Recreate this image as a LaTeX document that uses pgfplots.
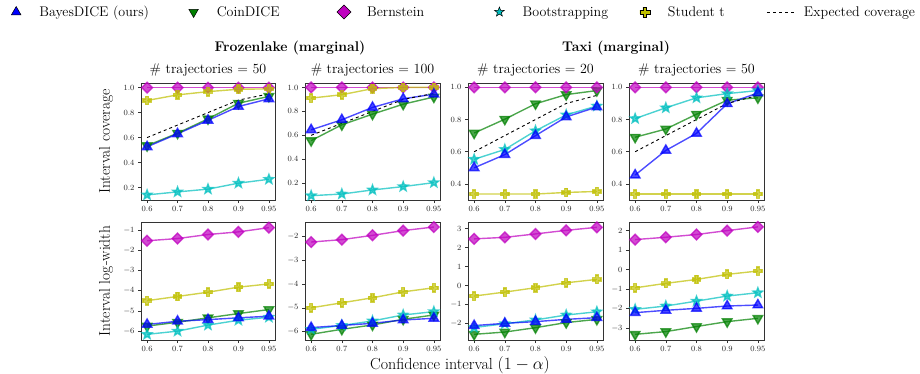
\documentclass[border=0pt]{standalone}
\usepackage{pgfplots}
\usepackage{pgfplotstable}
\pgfplotsset{compat=1.18}

\definecolor{cB}{rgb}{0,0,1}
\definecolor{cC}{rgb}{0,0.5,0}
\definecolor{cM}{rgb}{0.75,0,0.75}
\definecolor{cS}{rgb}{0,0.75,0.75}
\definecolor{cY}{rgb}{0.75,0.75,0}

\pgfdeclareplotmark{fstar}{%
  \pgfpathmoveto{\pgfpointpolar{90}{\pgfplotmarksize}}%
  \pgfpathlineto{\pgfpointpolar{126}{0.42\pgfplotmarksize}}%
  \pgfpathlineto{\pgfpointpolar{162}{\pgfplotmarksize}}%
  \pgfpathlineto{\pgfpointpolar{198}{0.42\pgfplotmarksize}}%
  \pgfpathlineto{\pgfpointpolar{234}{\pgfplotmarksize}}%
  \pgfpathlineto{\pgfpointpolar{270}{0.42\pgfplotmarksize}}%
  \pgfpathlineto{\pgfpointpolar{306}{\pgfplotmarksize}}%
  \pgfpathlineto{\pgfpointpolar{342}{0.42\pgfplotmarksize}}%
  \pgfpathlineto{\pgfpointpolar{18}{\pgfplotmarksize}}%
  \pgfpathlineto{\pgfpointpolar{54}{0.42\pgfplotmarksize}}%
  \pgfpathclose\pgfusepathqfillstroke}
\pgfdeclareplotmark{fplus}{%
  \pgfpathmoveto{\pgfpoint{0.38\pgfplotmarksize}{\pgfplotmarksize}}%
  \pgfpathlineto{\pgfpoint{-0.38\pgfplotmarksize}{\pgfplotmarksize}}%
  \pgfpathlineto{\pgfpoint{-0.38\pgfplotmarksize}{0.38\pgfplotmarksize}}%
  \pgfpathlineto{\pgfpoint{-\pgfplotmarksize}{0.38\pgfplotmarksize}}%
  \pgfpathlineto{\pgfpoint{-\pgfplotmarksize}{-0.38\pgfplotmarksize}}%
  \pgfpathlineto{\pgfpoint{-0.38\pgfplotmarksize}{-0.38\pgfplotmarksize}}%
  \pgfpathlineto{\pgfpoint{-0.38\pgfplotmarksize}{-\pgfplotmarksize}}%
  \pgfpathlineto{\pgfpoint{0.38\pgfplotmarksize}{-\pgfplotmarksize}}%
  \pgfpathlineto{\pgfpoint{0.38\pgfplotmarksize}{-0.38\pgfplotmarksize}}%
  \pgfpathlineto{\pgfpoint{\pgfplotmarksize}{-0.38\pgfplotmarksize}}%
  \pgfpathlineto{\pgfpoint{\pgfplotmarksize}{0.38\pgfplotmarksize}}%
  \pgfpathlineto{\pgfpoint{0.38\pgfplotmarksize}{0.38\pgfplotmarksize}}%
  \pgfpathclose\pgfusepathqfillstroke}

\pgfplotsset{
  panel/.style={scale only axis, width=134pt, height=117pt,
    xmin=-0.2, xmax=4.2, xtick={0,1,2,3,4},
    xticklabels={0.6,0.7,0.8,0.9,0.95},
    tick align=outside, tick pos=left, major tick length=3pt,
    tick style={black!80, line width=0.6pt},
    axis line style={black!80, line width=0.9pt},
    tick label style={font=\fontsize{8}{9}\selectfont, black!85},
    xticklabel style={yshift=0pt},
    title style={font=\fontsize{14}{16}\selectfont, yshift=-3pt},
  },
  cov/.style={ytick={0.2,0.4,0.6,0.8,1.0},
    yticklabel style={/pgf/number format/.cd, fixed, fixed zerofill, precision=1}},
  bayes/.style={color=cB, opacity=0.7, line width=1.4pt, mark=triangle*, mark size=5.5pt, mark options={solid}},
  coin/.style={color=cC, opacity=0.7, line width=1.4pt, mark=triangle*, mark size=5.5pt, mark options={solid, rotate=180}},
  bern/.style={color=cM, opacity=0.7, line width=1.4pt, mark=square*, mark size=3.8pt, mark options={solid, rotate=45}},
  boot/.style={color=cS, opacity=0.7, line width=1.4pt, mark=fstar, mark size=5pt, mark options={solid}},
  stud/.style={color=cY, opacity=0.7, line width=1.4pt, mark=fplus, mark size=4.2pt, mark options={solid}},
  expc/.style={black, dashed, line width=0.9pt, mark=none},
}

% x: 0=0.6, 1=0.7, 2=0.8, 3=0.9, 4=0.95
\pgfplotstableread{
x bayes coin bern boot stud exp
0 0.526 0.535 1 0.141 0.897 0.60
1 0.630 0.635 1 0.165 0.942 0.70
2 0.738 0.750 1 0.187 0.968 0.80
3 0.849 0.875 1 0.235 0.987 0.90
4 0.910 0.930 1 0.266 0.990 0.95
}\covA
\pgfplotstableread{
x bayes coin bern boot stud exp
0 0.646 0.556 1 0.096 0.911 0.60
1 0.730 0.688 1 0.110 0.939 0.70
2 0.833 0.777 1 0.144 0.990 0.80
3 0.905 0.860 1 0.172 1.000 0.90
4 0.944 0.920 1 0.205 1.000 0.95
}\covB
\pgfplotstableread{
x bayes coin bern boot stud exp
0 0.500 0.716 1 0.553 0.337 0.60
1 0.582 0.802 1 0.614 0.337 0.70
2 0.700 0.898 1 0.730 0.337 0.80
3 0.816 0.955 1 0.829 0.347 0.90
4 0.878 0.980 1 0.884 0.353 0.95
}\covC
\pgfplotstableread{
x bayes coin bern boot stud exp
0 0.455 0.690 1 0.806 0.337 0.60
1 0.608 0.741 1 0.873 0.337 0.70
2 0.714 0.833 1 0.935 0.337 0.80
3 0.898 0.920 1 0.961 0.337 0.90
4 0.965 0.935 1 0.980 0.337 0.95
}\covD
\pgfplotstableread{
x bayes coin bern boot stud
0 -5.67 -5.75 -1.52 -6.16 -4.49
1 -5.51 -5.56 -1.41 -6.00 -4.28
2 -5.43 -5.34 -1.21 -5.70 -4.07
3 -5.34 -5.13 -1.08 -5.46 -3.82
4 -5.26 -4.93 -0.87 -5.31 -3.66
}\lwA
\pgfplotstableread{
x bayes coin bern boot stud
0 -5.83 -6.11 -2.24 -5.90 -5.00
1 -5.74 -5.90 -2.14 -5.74 -4.79
2 -5.65 -5.72 -1.96 -5.55 -4.58
3 -5.51 -5.48 -1.76 -5.30 -4.33
4 -5.44 -5.30 -1.61 -5.16 -4.16
}\lwB
\pgfplotstableread{
x bayes coin bern boot stud
0 -2.12 -2.58 2.46 -2.22 -0.56
1 -2.00 -2.46 2.54 -2.02 -0.35
2 -1.91 -2.23 2.72 -1.82 -0.12
3 -1.79 -1.96 2.91 -1.56 0.14
4 -1.70 -1.79 3.07 -1.39 0.32
}\lwC
\pgfplotstableread{
x bayes coin bern boot stud
0 -2.20 -3.31 1.54 -2.03 -0.93
1 -2.08 -3.17 1.66 -1.86 -0.70
2 -1.98 -2.91 1.80 -1.61 -0.50
3 -1.86 -2.66 2.00 -1.35 -0.24
4 -1.81 -2.49 2.19 -1.18 -0.07
}\lwD

\begin{document}
\begin{tikzpicture}[x=1pt,y=1pt]
\path[use as bounding box] (0,0) rectangle (920,373);

% ---------- legend ----------
\begin{axis}[hide axis, scale only axis, at={(0pt,0pt)}, anchor=south west,
  width=920pt, height=373pt, xmin=0, xmax=1, ymin=0, ymax=1,
  legend columns=6,
  legend style={draw=none, fill=none, inner sep=0pt, outer sep=0pt,
    at={(2.5/920,361/373)}, anchor=west, column sep=0pt,
    nodes={inner sep=0pt, outer sep=0pt},
    font=\fontsize{14}{16}\selectfont},
]
\addlegendimage{legend image code/.code={\path (0pt,0pt) (27pt,0pt); \draw[fill=cB, draw=black, line width=0.5pt] plot[mark=triangle*, mark size=5.5pt] coordinates {(13.5pt,0pt)};}}
\addlegendentry{\makebox[150pt][l]{\hspace{9.5pt}BayesDICE (ours)}}
\addlegendimage{legend image code/.code={\path (0pt,0pt) (27pt,0pt); \draw[fill=cC, draw=black, line width=0.5pt] plot[mark=triangle*, mark size=5.5pt, mark options={rotate=180}] coordinates {(13.5pt,0pt)};}}
\addlegendentry{\makebox[123pt][l]{\hspace{9.5pt}CoinDICE}}
\addlegendimage{legend image code/.code={\path (0pt,0pt) (27pt,0pt); \draw[fill=cM, draw=black, line width=0.5pt] plot[mark=square*, mark size=5pt, mark options={rotate=45}] coordinates {(13.5pt,0pt)};}}
\addlegendentry{\makebox[128pt][l]{\hspace{9.5pt}Bernstein}}
\addlegendimage{legend image code/.code={\path (0pt,0pt) (27pt,0pt); \draw[fill=cS, draw=black, line width=0.5pt] plot[mark=fstar, mark size=5pt] coordinates {(13.5pt,0pt)};}}
\addlegendentry{\makebox[118pt][l]{\hspace{9.5pt}Bootstrapping}}
\addlegendimage{legend image code/.code={\path (0pt,0pt) (27pt,0pt); \draw[fill=cY, draw=black, line width=0.5pt] plot[mark=fplus, mark size=5pt] coordinates {(13.5pt,0pt)};}}
\addlegendentry{\makebox[108pt][l]{\hspace{9.5pt}Student t}}
\addlegendimage{legend image code/.code={\draw[black, dashed, line width=1pt] (0pt,0pt) -- (27pt,0pt);}}
\addlegendentry{\makebox[120pt][l]{\hspace{9.5pt}Expected coverage}}
\addplot[draw=none, forget plot] coordinates {(0.5,0.5)};
\end{axis}

% ---------- row 1 ----------
\begin{axis}[panel, cov, at={(141pt,173pt)}, anchor=south west, width=134pt,
  ymin=0.10, ymax=1.037, title={\# trajectories = 50}]
\addplot[coin] table[x=x,y=coin]{\covA};
\addplot[bern] table[x=x,y=bern]{\covA};
\addplot[boot] table[x=x,y=boot]{\covA};
\addplot[stud] table[x=x,y=stud]{\covA};
\addplot[bayes] table[x=x,y=bayes]{\covA};
\addplot[expc] table[x=x,y=exp]{\covA};
\end{axis}
\begin{axis}[panel, cov, at={(305pt,173pt)}, anchor=south west, width=135pt,
  ymin=0.06, ymax=1.037, title={\# trajectories = 100}]
\addplot[coin] table[x=x,y=coin]{\covB};
\addplot[bern] table[x=x,y=bern]{\covB};
\addplot[boot] table[x=x,y=boot]{\covB};
\addplot[stud] table[x=x,y=stud]{\covB};
\addplot[bayes] table[x=x,y=bayes]{\covB};
\addplot[expc] table[x=x,y=exp]{\covB};
\end{axis}
\begin{axis}[panel, cov, at={(468pt,173pt)}, anchor=south west, width=135pt,
  ymin=0.30, ymax=1.027, ytick={0.4,0.6,0.8,1.0}, title={\# trajectories = 20}]
\addplot[coin] table[x=x,y=coin]{\covC};
\addplot[bern] table[x=x,y=bern]{\covC};
\addplot[boot] table[x=x,y=boot]{\covC};
\addplot[stud] table[x=x,y=stud]{\covC};
\addplot[bayes] table[x=x,y=bayes]{\covC};
\addplot[expc] table[x=x,y=exp]{\covC};
\end{axis}
\begin{axis}[panel, cov, at={(629pt,173pt)}, anchor=south west, width=135pt,
  ymin=0.30, ymax=1.027, ytick={0.4,0.6,0.8,1.0}, title={\# trajectories = 50}]
\addplot[coin] table[x=x,y=coin]{\covD};
\addplot[bern] table[x=x,y=bern]{\covD};
\addplot[boot] table[x=x,y=boot]{\covD};
\addplot[stud] table[x=x,y=stud]{\covD};
\addplot[bayes] table[x=x,y=bayes]{\covD};
\addplot[expc] table[x=x,y=exp]{\covD};
\end{axis}

% ---------- row 2 ----------
\begin{axis}[panel, at={(141pt,33pt)}, anchor=south west, width=134pt, height=118pt,
  ymin=-6.44, ymax=-0.59, ytick={-6,-5,-4,-3,-2,-1}]
\addplot[coin] table[x=x,y=coin]{\lwA};
\addplot[bern] table[x=x,y=bern]{\lwA};
\addplot[boot] table[x=x,y=boot]{\lwA};
\addplot[stud] table[x=x,y=stud]{\lwA};
\addplot[bayes] table[x=x,y=bayes]{\lwA};
\end{axis}
\begin{axis}[panel, at={(305pt,33pt)}, anchor=south west, width=135pt, height=118pt,
  ymin=-6.35, ymax=-1.40, ytick={-6,-5,-4,-3,-2}]
\addplot[coin] table[x=x,y=coin]{\lwB};
\addplot[bern] table[x=x,y=bern]{\lwB};
\addplot[boot] table[x=x,y=boot]{\lwB};
\addplot[stud] table[x=x,y=stud]{\lwB};
\addplot[bayes] table[x=x,y=bayes]{\lwB};
\end{axis}
\begin{axis}[panel, at={(468pt,33pt)}, anchor=south west, width=135pt, height=118pt,
  ymin=-2.88, ymax=3.35, ytick={-2,-1,0,1,2,3}]
\addplot[coin] table[x=x,y=coin]{\lwC};
\addplot[bern] table[x=x,y=bern]{\lwC};
\addplot[boot] table[x=x,y=boot]{\lwC};
\addplot[stud] table[x=x,y=stud]{\lwC};
\addplot[bayes] table[x=x,y=bayes]{\lwC};
\end{axis}
\begin{axis}[panel, at={(629pt,33pt)}, anchor=south west, width=135pt, height=118pt,
  ymin=-3.60, ymax=2.44, ytick={-3,-2,-1,0,1,2}]
\addplot[coin] table[x=x,y=coin]{\lwD};
\addplot[bern] table[x=x,y=bern]{\lwD};
\addplot[boot] table[x=x,y=boot]{\lwD};
\addplot[stud] table[x=x,y=stud]{\lwD};
\addplot[bayes] table[x=x,y=bayes]{\lwD};
\end{axis}

% ---------- labels and titles ----------
\node[rotate=90, font=\fontsize{15.5}{17}\selectfont] at (106,231.5) {Interval coverage};
\node[rotate=90, font=\fontsize{15.5}{17}\selectfont] at (106,92) {Interval log-width};
\node[font=\fontsize{16}{18}\selectfont, anchor=base, inner sep=0pt] at (460,4) {Confidence interval $(1-\alpha)$};
\node[font=\bfseries\fontsize{14}{16}\selectfont] at (290,325) {Frozenlake (marginal)};
\node[font=\bfseries\fontsize{14}{16}\selectfont] at (616,325) {Taxi (marginal)};
\end{tikzpicture}
\end{document}
